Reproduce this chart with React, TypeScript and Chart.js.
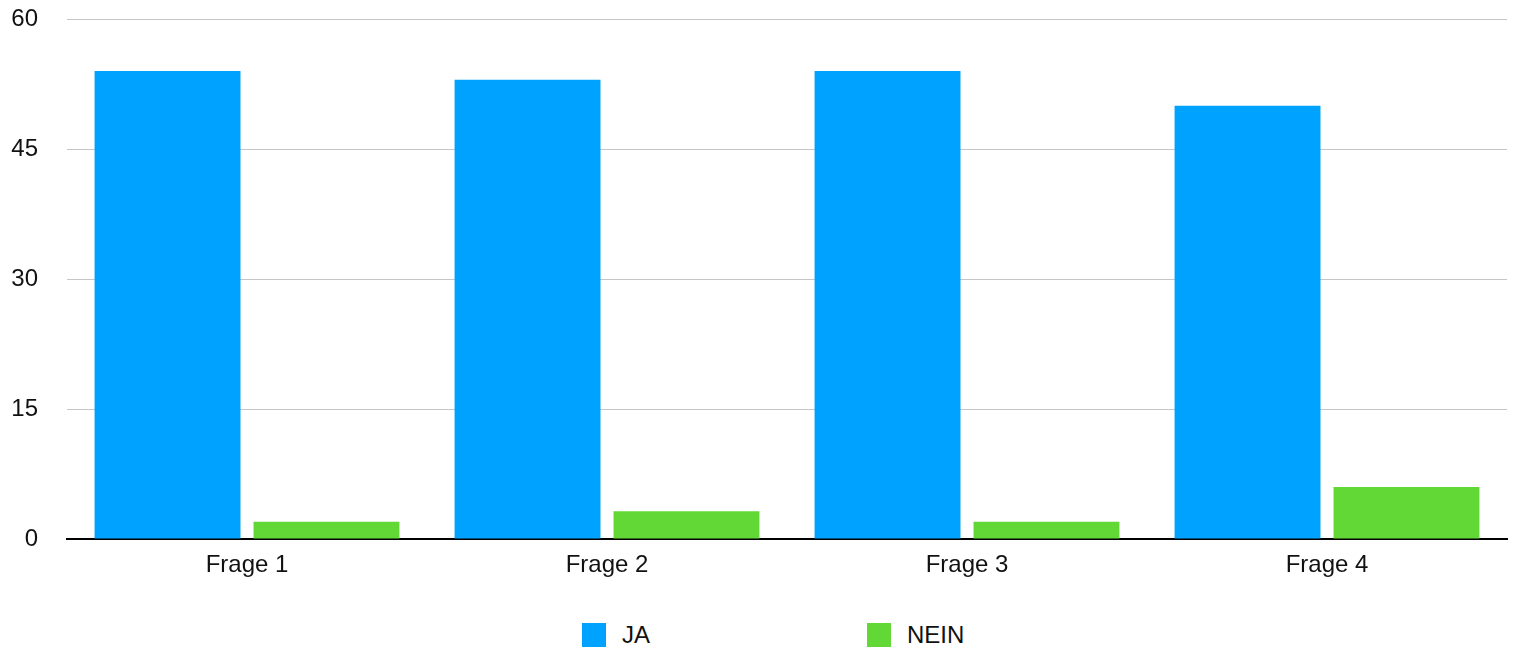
import React, { useEffect, useRef } from "react";
import { Chart, registerables } from "chart.js";

Chart.register(...registerables);

const categories = ["Frage 1", "Frage 2", "Frage 3", "Frage 4"];
const jaValues = [54, 53, 54, 50];
const neinValues = [2, 3.2, 2, 6];
const yTicks = [0, 15, 30, 45, 60];
const seriesNames = ["JA", "NEIN"];
const seriesColors = ["#00A2FF", "#61D836"];

const FONT = "'Liberation Sans', Arial, Helvetica, sans-serif";
const TEXT = "#111111";

export default function App() {
  const canvasRef = useRef<HTMLCanvasElement | null>(null);

  useEffect(() => {
    const canvas = canvasRef.current;
    if (!canvas) return;
    const chart = new Chart(canvas, {
      type: "bar",
      data: {
        labels: categories,
        datasets: [
          { label: seriesNames[0], data: jaValues, backgroundColor: seriesColors[0] },
          { label: seriesNames[1], data: neinValues, backgroundColor: seriesColors[1] },
        ],
      },
      options: {
        animation: false,
        responsive: false,
        devicePixelRatio: 1,
        layout: { padding: { top: 19, right: 14, left: 0, bottom: 6 } },
        plugins: { legend: { display: false }, tooltip: { enabled: false } },
        datasets: { bar: { categoryPercentage: 0.883, barPercentage: 0.918 } },
        scales: {
          x: {
            grid: { display: false, drawTicks: false },
            border: { display: true, color: "#000000", width: 2 },
            ticks: { color: TEXT, font: { family: FONT, size: 24 }, padding: 12 },
            afterFit: (axis: any) => {
              axis.height = 45;
            },
          },
          y: {
            min: 0,
            max: 60,
            afterBuildTicks: (axis: any) => {
              axis.ticks = yTicks.map((v) => ({ value: v }));
            },
            afterFit: (axis: any) => {
              axis.width = 67;
              axis.paddingTop = 0;
              axis.paddingBottom = 0;
            },
            grid: { color: "#c6c6c6", lineWidth: 1, drawTicks: false },
            border: { display: false },
            ticks: { color: TEXT, font: { family: FONT, size: 24 }, padding: 29 },
          },
        },
      },
    });
    return () => chart.destroy();
  }, []);

  return (
    <div style={{ position: "absolute", left: 0, top: 0, width: 1521, height: 647, background: "#fff" }}>
      <canvas ref={canvasRef} width={1521} height={590} style={{ display: "block" }} />
      <div
        style={{
          position: "absolute",
          top: 621,
          left: 582,
          display: "flex",
          alignItems: "center",
          fontFamily: FONT,
          fontSize: 24,
          color: TEXT,
        }}
      >
        {seriesNames.map((name, i) => (
          <div key={name} style={{ display: "flex", alignItems: "center", width: i === 0 ? 285 : "auto" }}>
            <span style={{ display: "inline-block", width: 24, height: 24, background: seriesColors[i], marginRight: 16 }} />
            <span>{name}</span>
          </div>
        ))}
      </div>
    </div>
  );
}
